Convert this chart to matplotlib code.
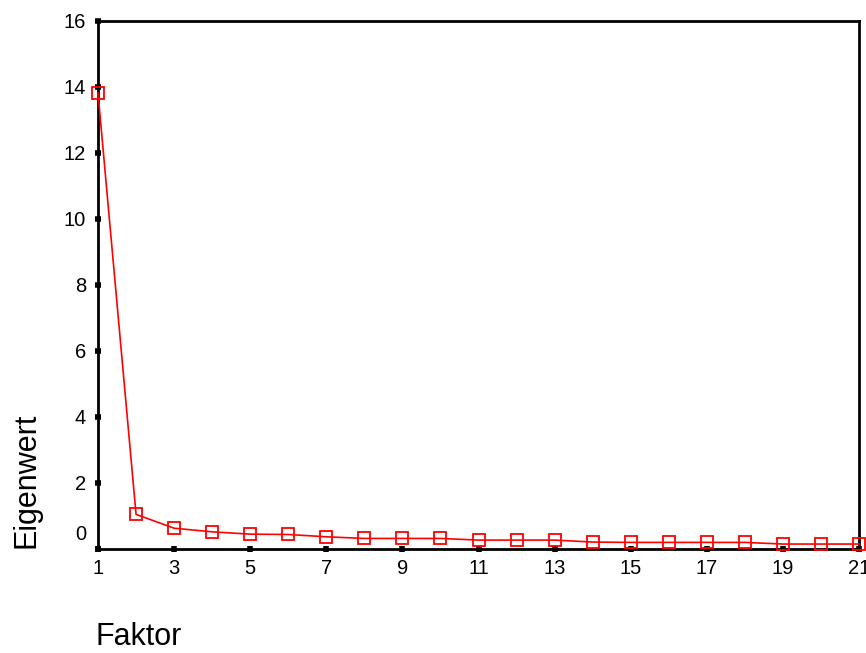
import matplotlib
matplotlib.use("Agg")
import matplotlib.pyplot as plt
from matplotlib.transforms import ScaledTranslation

factors = list(range(1, 22))
eigenvalues = [13.82, 1.05, 0.63, 0.52, 0.45, 0.44, 0.37, 0.32, 0.32, 0.32,
               0.27, 0.27, 0.27, 0.21, 0.20, 0.20, 0.20, 0.20, 0.15, 0.15, 0.15]
xticks = list(range(1, 22, 2))
yticks = list(range(0, 17, 2))

plt.rcParams['font.family'] = ['Liberation Sans', 'DejaVu Sans']

fig = plt.figure(figsize=(8.66, 6.53), dpi=100)
ax = fig.add_axes([98/866, 104/653, 761/866, 528/653])
ax.plot(factors, eigenvalues, color='#ff0000', lw=1.2, marker='s', ms=8.5,
        mfc='none', mec='#ff0000', mew=1.3, clip_on=False, zorder=3)
ax.set_xlim(1, 21)
ax.set_ylim(0, 16)
ax.set_xticks(xticks)
ax.set_yticks(yticks)
for s in ax.spines.values():
    s.set_linewidth(2)
ax.tick_params(direction='inout', length=5, width=4, labelsize=14.5, colors='black')
ax.tick_params(axis='x', pad=5)
ax.tick_params(axis='y', pad=6)
# shift the "0" label up slightly as in the reference
lbl0 = ax.get_yticklabels()[0]
lbl0.set_transform(lbl0.get_transform() + ScaledTranslation(0, 12/72, fig.dpi_scale_trans))
fig.text(27/866, 1 - 480/653, 'Eigenwert', rotation=90, fontsize=22, ha='center', va='center')
fig.text(96/866, 1 - 637/653, 'Faktor', fontsize=22, ha='left', va='center')
fig.savefig('out.png', dpi=100)
